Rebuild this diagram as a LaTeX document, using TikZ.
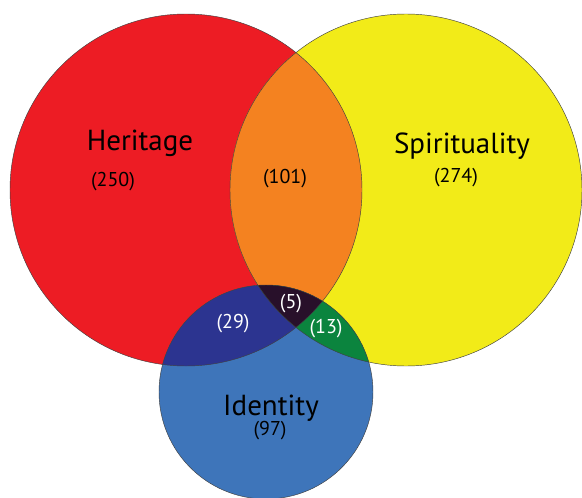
\documentclass[tikz,border=0pt]{standalone}
\usepackage{fontspec}
\setmainfont{PT Sans}
\usetikzlibrary{positioning}
\definecolor{heritagered}{RGB}{237,28,36}
\definecolor{spirityellow}{RGB}{242,235,24}
\definecolor{identityblue}{RGB}{62,117,186}
\definecolor{hsorange}{RGB}{244,130,32}
\definecolor{hinavy}{RGB}{44,52,144}
\definecolor{sigreen}{RGB}{11,132,62}
\definecolor{alldark}{RGB}{40,16,42}
\tikzset{
    every picture/.style={line width=0.5pt},
    rim/.style={draw=black!75,line width=0.45pt},
    setname/.style={font=\fontsize{29}{32}\selectfont,anchor=base,inner sep=0pt},
    count/.style={font=\fontsize{20}{24}\selectfont,inner sep=0pt},
    whitecount/.style={count,text=white}
}

\begin{document}
\begin{tikzpicture}[x=1pt,y=-1pt]
        \useasboundingbox (0,0) rectangle (582,498);
        % Centres
        \coordinate (heritage) at (186,190);
        \coordinate (spirit) at (406,190);
        \coordinate (identity) at (266,392);
        
        % Circles
        \fill[heritagered] (heritage) circle (176);
        \fill[spirityellow] (spirit) circle (176);
        \fill[identityblue] (identity) circle (107);
        
        % Overlaps
        \begin{scope}
            \clip (heritage) circle (176);
            \fill[hsorange] (spirit) circle (176);
            \fill[hinavy] (identity) circle (107);
        \end{scope}
        \begin{scope}
            \clip (spirit) circle (176);
            \fill[sigreen] (identity) circle (107);
            \clip (heritage) circle (176);
            \fill[alldark] (identity) circle (107);
        \end{scope}
        
        % Outlines
        \draw[rim] (heritage) circle (176);
        \draw[rim] (spirit) circle (176);
        \draw[rim] (identity) circle (107);
        
        % Labels
        \node[setname] (heritagename) at (140,150) {Heritage};
        \node[count] (heritagecount) at (113,182) {(250)};
        
        \node[setname] (spiritname) at (462,153) {Spirituality};
        \node[count] (spiritcount) at (456,178) {(274)};
        
        \node[setname] (identityname) at (271,415) {Identity};
        \node[count] (identitycount) at (270,431) {(97)};
        
        \node[count] (hscount) at (285,179) {(101)};
        \node[whitecount] (allcount) at (291,304) {(5)};
        \node[whitecount] (hicount) at (233,324) {(29)};
        \node[whitecount] (sicount) at (326,329) {(13)};
    \end{tikzpicture}
\end{document}
